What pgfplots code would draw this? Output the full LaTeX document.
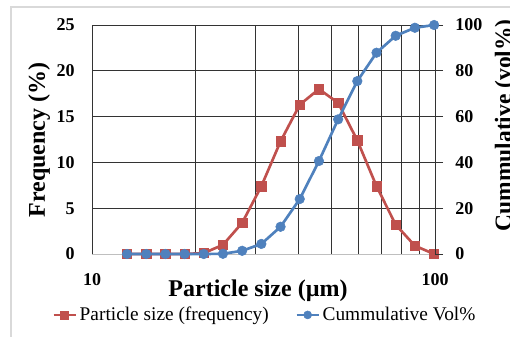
\documentclass[border=0pt]{standalone}
\usepackage{pgfplots}
\pgfplotsset{compat=1.18}
\usepackage{fontspec}
\setmainfont{Liberation Serif}

\definecolor{freqred}{HTML}{C0504D}
\definecolor{cumblue}{HTML}{4F81BD}
\definecolor{gridgray}{HTML}{333333}
\definecolor{framegray}{HTML}{D9D9D9}

\pgfplotstableread{
d      freq  cum
12.65  0.0   0.0
14.39  0.0   0.0
16.37  0.0   0.0
18.62  0.0   0.0
21.18  0.1   0.0
24.09  1.0   0.1
27.40  3.4   1.4
31.17  7.4   4.4
35.46  12.3  11.9
40.33  16.3  24.0
45.88  18.0  40.6
52.19  16.5  58.8
59.36  12.4  75.5
67.53  7.4   87.9
76.81  3.2   95.3
87.37  0.9   98.8
99.39  0.0   100.0
}\psd

\newcommand{\ticklabelfont}{\fontsize{13.5}{16}\selectfont\bfseries}
\newcommand{\titlefont}{\fontsize{18}{21}\selectfont\bfseries}

\pgfplotsset{
  freqstyle/.style={freqred, line width=2pt, mark=square*, mark size=3.5pt,
    mark options={solid, fill=freqred, draw=freqred, line width=0.4pt}},
  cumstyle/.style={cumblue, line width=2pt, mark=*, mark size=3.6pt,
    mark options={solid, fill=cumblue, draw=cumblue, line width=0.4pt}},
  common/.style={
    at={(69pt,61.5pt)}, anchor=south west,
    scale only axis, width=257.25pt, height=171.75pt,
    xmin=10, xmax=100,
    clip=false,
    /pgf/number format/assume math mode=true,
    ticklabel style={font=\ticklabelfont},
  },
}

\begin{document}
\begin{tikzpicture}
% light frame round the chart area
\draw[framegray, line width=0.8pt] (8.25pt,246.75pt) rectangle (420pt,-20pt);

% frequency axis (left)
\begin{axis}[xmode=log, common,
  ymin=0, ymax=25,
  axis x line*=bottom, axis y line*=left,
  x axis line style={draw=black!25, line width=0.7pt},
  y axis line style={draw=gridgray, line width=0.7pt},
  xtick={10,100}, xticklabels={10,100},
  minor xtick={20,30,40,50,60,70,80,90},
  ytick={5,10,15,20,25},
  extra y ticks={0}, extra y tick style={grid=none},
  xmajorgrids, xminorgrids, ymajorgrids,
  major grid style={draw=gridgray, line width=0.7pt},
  minor grid style={draw=gridgray, line width=0.7pt},
  major tick length=0pt, minor tick length=0pt,
  xticklabel style={anchor=north, inner sep=0pt, yshift=-14.25pt},
  yticklabel style={anchor=east, inner sep=0pt, xshift=-12.75pt},
]
\addplot[freqstyle] table[x=d, y=freq] {\psd};
\end{axis}

% cumulative axis (right)
\begin{axis}[xmode=log, common,
  ymin=0, ymax=100,
  axis x line=none, axis y line*=right,
  y axis line style={draw=gridgray, line width=0.7pt},
  ytick={0,20,40,60,80,100},
  tick align=outside, major tick length=6pt,
  tick style={draw=gridgray, line width=0.7pt},
  yticklabel style={anchor=west, inner sep=0pt, xshift=9pt},
  legend columns=2,
  legend style={at={(0.505,-0.266)}, anchor=center, draw=none, fill=none,
    font=\fontsize{14.5}{17}\selectfont, inner sep=0pt,
    /tikz/every even column/.append style={column sep=18pt}},
  legend cell align=left,
  legend image code/.code={
    \draw[#1, mark size=3pt, line width=2pt, mark repeat=2, mark phase=2]
      plot coordinates {(0pt,0pt) (8.25pt,0pt) (16.5pt,0pt)};},
]
\addlegendimage{freqstyle}
\addlegendentry{Particle size (frequency)}
\addplot[cumstyle] table[x=d, y=cum] {\psd};
\addlegendentry{Cummulative Vol\%}
\end{axis}

% axis titles
\node[rotate=90, anchor=north, inner sep=0pt, font=\titlefont] at (21pt,147pt) {Frequency (\%)};
\node[anchor=base, inner sep=0pt, font=\titlefont] at (193.5pt,30pt) {Particle size (µm)};
\node[rotate=90, anchor=north, inner sep=0pt, font=\fontsize{17.6}{21}\selectfont\bfseries] at (371pt,158pt) {Cummulative (vol\%)};

\pgfresetboundingbox
\useasboundingbox (0,0) rectangle (382.5pt,252pt);
\end{tikzpicture}
\end{document}
